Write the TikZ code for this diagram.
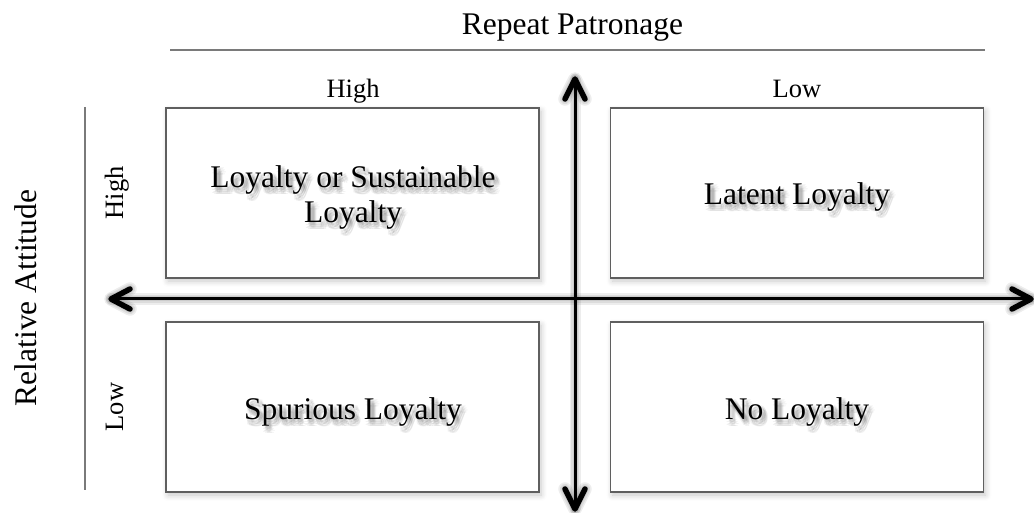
\documentclass[tikz,border=0pt]{standalone}
\usepackage{fontspec}
\setmainfont{Liberation Serif}
\usetikzlibrary{shadows.blur}
\definecolor{boxgray}{HTML}{5F5F5F}
\definecolor{guidegray}{HTML}{7A7A7A}
\tikzset{
  quad/.style={draw=boxgray, line width=1.4pt, fill=white, minimum width=373pt,
    minimum height=170pt, inner sep=0pt,
    blur shadow={shadow xshift=2pt, shadow yshift=-3pt, shadow blur radius=6pt,
      shadow blur steps=8, shadow opacity=22}},
  big/.style={font=\fontsize{31.5}{35}\selectfont, align=center, inner sep=0pt},
  small/.style={font=\fontsize{26.5}{30}\selectfont, inner sep=0pt},
  guide/.style={draw=guidegray, line width=1.5pt},
  axis/.style={line width=3pt, draw=black},
  chev/.style={line width=5.5pt, line cap=round, line join=round, draw=black},
  ashade/.style={draw=black, opacity=0.07, line cap=round, line join=round},
}
\newcommand\txtshade[3]{%
  \foreach \dx/\dy in {1/3,3/2,5/3,2/5,4/4,6/5,3/7,5/7,1/6,4/1}{%
    \node[#1, text=black, text opacity=0.055] at ([shift={(\dx,\dy)}]#2) {#3};}}
\begin{document}
\begin{tikzpicture}[x=1pt, y=-1pt]
\useasboundingbox (0,0) rectangle (1034,513);
% guide lines
\coordinate (g1) at (170,50);
\coordinate (g2) at (985,50);
\coordinate (g3) at (85,107);
\coordinate (g4) at (85,490);
\draw[guide] (g1) -- (g2);
\draw[guide] (g3) -- (g4);
% headings
\node[big, anchor=base] (title) at (572.5,35) {Repeat Patronage};
\node[small, anchor=base] (colhigh) at (353,98) {High};
\node[small, anchor=base] (collow) at (797,98) {Low};
\node[big, anchor=base, rotate=90] (rowtitle) at (36,298) {Relative Attitude};
\node[small, anchor=base, rotate=90] (rowhigh) at (123,193) {High};
\node[small, anchor=base, rotate=90] (rowlow) at (123,407) {Low};
% boxes
\node[quad] (tl) at (352.5,193) {};
\node[quad] (tr) at (797,193) {};
\node[quad] (bl) at (352.5,407) {};
\node[quad] (br) at (797,407) {};
% box texts with soft shadows
\txtshade{big}{353,197}{Loyalty or Sustainable\\Loyalty}
\node[big] (tltext) at (353,197) {Loyalty or Sustainable\\Loyalty};
\txtshade{big, anchor=base}{797,205}{Latent Loyalty}
\node[big, anchor=base] (trtext) at (797,205) {Latent Loyalty};
\txtshade{big, anchor=base}{353,419}{Spurious Loyalty}
\node[big, anchor=base] (bltext) at (353,419) {Spurious Loyalty};
\txtshade{big, anchor=base}{797,419}{No Loyalty}
\node[big, anchor=base] (brtext) at (797,419) {No Loyalty};
% axes
\coordinate (N) at (575,79);
\coordinate (S) at (575,509);
\coordinate (W) at (111,299);
\coordinate (E) at (1031,299);
\foreach \w in {5,8,11}{
  \begin{scope}[shift={(2,3)}]
    \draw[ashade, line width=\w pt] (W) -- (E);
    \draw[ashade, line width=\w pt] (N) -- (S);
    \draw[ashade, line width=\w pt+2.5pt] ([shift={(-10,20)}]N) -- (N) -- ([shift={(10,20)}]N);
    \draw[ashade, line width=\w pt+2.5pt] ([shift={(-10,-20)}]S) -- (S) -- ([shift={(10,-20)}]S);
    \draw[ashade, line width=\w pt+2.5pt] ([shift={(19,-10)}]W) -- (W) -- ([shift={(19,10)}]W);
    \draw[ashade, line width=\w pt+2.5pt] ([shift={(-19,-10)}]E) -- (E) -- ([shift={(-19,10)}]E);
  \end{scope}
}
\draw[axis] (W) -- (E);
\draw[axis] (N) -- (S);
\draw[chev] ([shift={(-10,20)}]N) -- (N) -- ([shift={(10,20)}]N);
\draw[chev] ([shift={(-10,-20)}]S) -- (S) -- ([shift={(10,-20)}]S);
\draw[chev] ([shift={(19,-10)}]W) -- (W) -- ([shift={(19,10)}]W);
\draw[chev] ([shift={(-19,-10)}]E) -- (E) -- ([shift={(-19,10)}]E);
\end{tikzpicture}
\end{document}
